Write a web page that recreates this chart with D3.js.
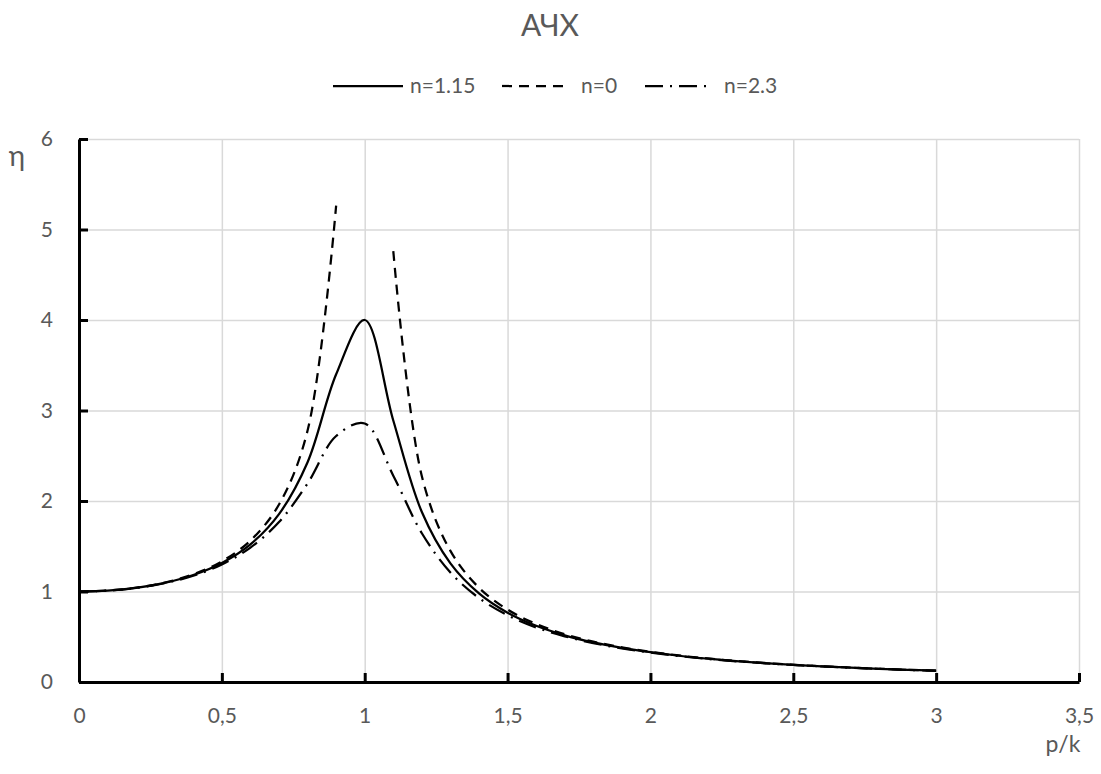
<!DOCTYPE html>
<html>
<head>
<meta charset="utf-8">
<script src="https://cdn.jsdelivr.net/npm/d3@7"></script>
<style>
  body { margin: 0; background: #fff; }
  text { font-family: Lato, "Open Sans", sans-serif; fill: #595959; }
</style>
</head>
<body>
<div id="chart"></div>
<script>
// p/k values, step 0.1 from 0 to 3
let pk = d3.range(0, 31).map(i => +(i / 10).toFixed(1));

// η for each curve
let eta_115 = [1.000, 1.010, 1.040, 1.095, 1.182, 1.315, 1.521, 1.855, 2.428, 3.400,
               4.000, 2.890, 1.878, 1.311, 0.979, 0.766, 0.621, 0.516, 0.438, 0.377,
               0.329, 0.290, 0.258, 0.231, 0.208, 0.189, 0.173, 0.158, 0.145, 0.134, 0.125];
let eta_0   = [1.000, 1.010, 1.042, 1.099, 1.190, 1.333, 1.563, 1.961, 2.778, 5.263,
               null,  4.762, 2.273, 1.449, 1.042, 0.800, 0.641, 0.529, 0.446, 0.383,
               0.333, 0.293, 0.260, 0.233, 0.210, 0.190, 0.174, 0.159, 0.146, 0.135, 0.125];
let eta_23  = [1.000, 1.010, 1.039, 1.092, 1.174, 1.299, 1.485, 1.767, 2.193, 2.718,
               2.857, 2.280, 1.644, 1.210, 0.928, 0.738, 0.603, 0.505, 0.430, 0.371,
               0.325, 0.287, 0.255, 0.229, 0.207, 0.188, 0.172, 0.157, 0.145, 0.134, 0.124];

let series_names = ["n=1.15", "n=0", "n=2.3"];
let series_values = [eta_115, eta_0, eta_23];
let dashes = [null, "10,7", "18,7,2,7"];

let x_ticks = [0, 0.5, 1, 1.5, 2, 2.5, 3, 3.5];
let y_ticks = [0, 1, 2, 3, 4, 5, 6];

let width = 1101, height = 774;
let margin = {left: 79, right: 22, top: 139, bottom: 92};
let pw = width - margin.left - margin.right;
let ph = height - margin.top - margin.bottom;

let x = d3.scaleLinear().domain([0, 3.5]).range([0, pw]);
let y = d3.scaleLinear().domain([0, 6]).range([ph, 0]);
let fmt = d => String(d).replace(".", ",");

let svg = d3.select("#chart").append("svg").attr("width", width).attr("height", height);

svg.append("text").attr("x", 550).attr("y", 36).attr("text-anchor", "middle")
    .style("font-size", "30px").text("АЧХ");

let g = svg.append("g").attr("transform", "translate(" + margin.left + "," + margin.top + ")");

/* grid */
g.append("g").attr("class", "grid").attr("transform", "translate(0," + ph + ")")
    .call(d3.axisBottom(x).tickValues(x_ticks).tickSize(-ph).tickFormat(""))
    .call(s => s.select(".domain").remove());
g.append("g").attr("class", "grid")
    .call(d3.axisLeft(y).tickValues(y_ticks).tickSize(-pw).tickFormat(""))
    .call(s => s.select(".domain").remove());
g.selectAll(".grid line").attr("stroke", "#d9d9d9").attr("stroke-width", 1.5);

/* curves */
let line = d3.line()
    .defined(d => d[1] !== null)
    .x(d => x(d[0]))
    .y(d => y(d[1]))
    .curve(d3.curveCatmullRom.alpha(0.5));

series_values.forEach(function(vals, i) {
    g.append("path")
        .datum(pk.map((p, j) => [p, vals[j]]))
        .attr("fill", "none")
        .attr("stroke", "#000")
        .attr("stroke-width", 2.25)
        .attr("stroke-dasharray", dashes[i])
        .attr("d", line);
});

/* axes, ticks pointing inwards */
let xAxis = g.append("g").attr("transform", "translate(0," + ph + ")")
    .call(d3.axisBottom(x).tickValues(x_ticks).tickSizeInner(-9).tickSizeOuter(0).tickPadding(26).tickFormat(fmt));
let yAxis = g.append("g")
    .call(d3.axisLeft(y).tickValues(y_ticks).tickSizeInner(-9).tickSizeOuter(0).tickPadding(26).tickFormat(fmt));
[xAxis, yAxis].forEach(function(a) {
    a.select(".domain").attr("stroke", "#000").attr("stroke-width", 3);
    a.selectAll(".tick line").attr("stroke", "#000").attr("stroke-width", 3);
    a.selectAll(".tick text").style("font-size", "21px").attr("fill", "#595959");
});

svg.append("text").attr("x", 1063).attr("y", 752).attr("text-anchor", "middle")
    .style("font-size", "23px").text("p/k");
svg.append("text").attr("x", 17).attr("y", 166).attr("text-anchor", "middle")
    .style("font-size", "28px").text("η");

/* legend */
let legend_x = [333, 502, 645];
let legend_len = [70, 68, 68];
let legend = svg.append("g");
series_names.forEach(function(name, i) {
    legend.append("line")
        .attr("x1", legend_x[i]).attr("x2", legend_x[i] + legend_len[i])
        .attr("y1", 86).attr("y2", 86)
        .attr("stroke", "#000").attr("stroke-width", 2.25)
        .attr("stroke-dasharray", dashes[i]);
    legend.append("text")
        .attr("x", legend_x[i] + (i === 0 ? 77 : 79)).attr("y", 93)
        .style("font-size", "21px").text(name);
});
</script>
</body>
</html>
